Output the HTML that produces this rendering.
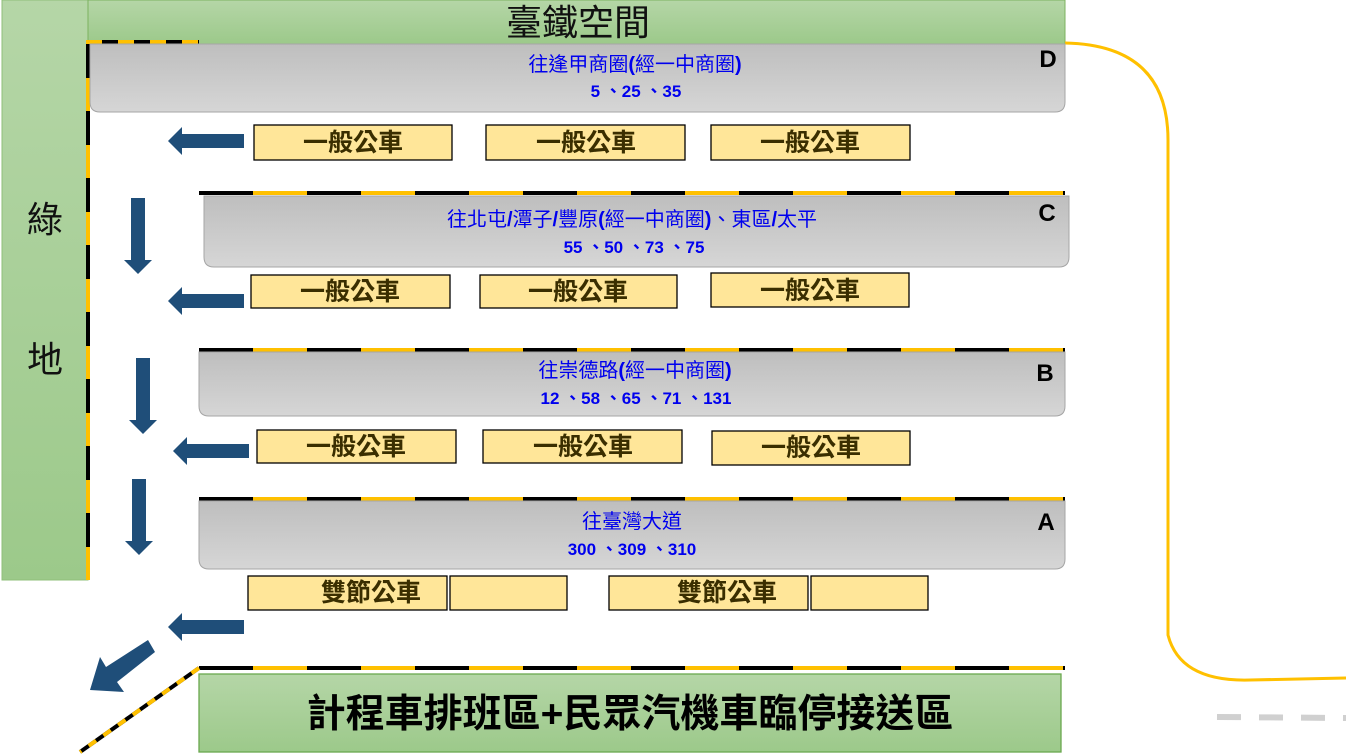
<!DOCTYPE html>
<html><head><meta charset="utf-8"><style>
html,body{margin:0;padding:0;background:#fff;}
svg{display:block;font-family:"Liberation Sans","Noto Sans CJK TC",sans-serif;}
</style></head><body>
<svg width="1346" height="756" viewBox="0 0 1346 756" xmlns="http://www.w3.org/2000/svg">
<defs>
<linearGradient id="g" x1="0" y1="0" x2="0" y2="1"><stop offset="0" stop-color="#b5d6a7"/><stop offset="1" stop-color="#9cc98a"/></linearGradient>
<linearGradient id="p" x1="0" y1="0" x2="0" y2="1"><stop offset="0" stop-color="#bebebe"/><stop offset="1" stop-color="#d6d6d6"/></linearGradient>
<g id="la"><polygon points="0,0 14,-14 14,-7 76,-7 76,7 14,7 14,14" fill="#1f4e79"/></g>
<g id="da"><polygon points="-7,0 7,0 7,62 14,62 0,76 -14,62 -7,62" fill="#1f4e79"/></g>
</defs>
<rect x="2" y="0" width="86" height="580" fill="url(#g)" stroke="#8fbf7a" stroke-width="1"/>
<text x="45" y="232" font-size="36" text-anchor="middle" fill="#111">綠</text>
<text x="45" y="372" font-size="36" text-anchor="middle" fill="#111">地</text>
<rect x="88" y="0" width="977" height="44" fill="url(#g)" stroke="#7cb25f" stroke-width="1"/>
<text x="578" y="35" font-size="36" text-anchor="middle" fill="#111">臺鐵空間</text>
<path d="M1065,43 Q1168,45 1168,140 L1168,635 Q1180,682 1250,680 L1346,678" fill="none" stroke="#ffc000" stroke-width="3"/>
<path d="M1217,717 L1346,718" stroke="#d0d0d0" stroke-width="6" stroke-dasharray="24,18"/>
<line x1="86" y1="42" x2="199" y2="42" stroke="#000" stroke-width="4"/>
<line x1="86" y1="42" x2="199" y2="42" stroke="#ffc000" stroke-width="4" stroke-dasharray="16,16"/>
<line x1="88" y1="44" x2="88" y2="580" stroke="#000" stroke-width="4"/>
<line x1="88" y1="44" x2="88" y2="580" stroke="#ffc000" stroke-width="4" stroke-dasharray="0,34,33,0"/>
<g stroke-width="4">
<line x1="199" y1="193" x2="1065" y2="193" stroke="#000"/>
<line x1="199" y1="193" x2="1065" y2="193" stroke="#ffc000" stroke-dasharray="0,54,54,0"/>
<line x1="199" y1="350" x2="1065" y2="350" stroke="#000"/>
<line x1="199" y1="350" x2="1065" y2="350" stroke="#ffc000" stroke-dasharray="0,54,54,0"/>
<line x1="199" y1="499" x2="1065" y2="499" stroke="#000"/>
<line x1="199" y1="499" x2="1065" y2="499" stroke="#ffc000" stroke-dasharray="0,54,54,0"/>
<line x1="199" y1="668" x2="1065" y2="668" stroke="#000"/>
<line x1="199" y1="668" x2="1065" y2="668" stroke="#ffc000" stroke-dasharray="0,54,54,0"/>
<line x1="199" y1="668" x2="80" y2="752" stroke="#000"/>
<line x1="199" y1="668" x2="80" y2="752" stroke="#ffc000" stroke-dasharray="9,9"/>
</g>
<g stroke="#a6a6a6" stroke-width="1" fill="url(#p)">
<path d="M90,44 H1065 V102 Q1065,112 1055,112 H100 Q90,112 90,102 Z"/>
<path d="M204,196 H1069 V257 Q1069,267 1059,267 H214 Q204,267 204,257 Z"/>
<path d="M199,352 H1065 V406 Q1065,416 1055,416 H209 Q199,416 199,406 Z"/>
<path d="M199,501 H1065 V559 Q1065,569 1055,569 H209 Q199,569 199,559 Z"/>
</g>
<g fill="#0000ee" text-anchor="middle">
<text x="635" y="71" font-size="20">往逢甲商圈<tspan font-weight="bold">(</tspan>經一中商圈<tspan font-weight="bold">)</tspan></text>
<text x="636" y="97" font-size="17" font-weight="bold">5 、25 、35</text>
<text x="632" y="226" font-size="20">往北屯<tspan font-weight="bold">/</tspan>潭子<tspan font-weight="bold">/</tspan>豐原<tspan font-weight="bold">(</tspan>經一中商圈<tspan font-weight="bold">)</tspan>、東區<tspan font-weight="bold">/</tspan>太平</text>
<text x="634" y="253" font-size="17" font-weight="bold">55 、50 、73 、75</text>
<text x="635" y="377" font-size="20">往崇德路<tspan font-weight="bold">(</tspan>經一中商圈<tspan font-weight="bold">)</tspan></text>
<text x="636" y="404" font-size="17" font-weight="bold">12 、58 、65 、71 、131</text>
<text x="632" y="528" font-size="20">往臺灣大道</text>
<text x="632" y="555" font-size="17" font-weight="bold">300 、309 、310</text>
</g>
<g font-size="24" font-weight="bold" fill="#000" text-anchor="middle">
<text x="1048" y="67">D</text><text x="1047" y="221">C</text><text x="1045" y="381">B</text><text x="1046" y="530">A</text>
</g>
<g fill="#ffe699" stroke="#000" stroke-width="1.3">
<rect x="254" y="125" width="198" height="35"/><rect x="486" y="125" width="199" height="35"/><rect x="711" y="125" width="199" height="35"/>
<rect x="251" y="275" width="199" height="33"/><rect x="480" y="275" width="197" height="33"/><rect x="711" y="273" width="198" height="34"/>
<rect x="257" y="430" width="199" height="33"/><rect x="483" y="430" width="199" height="33"/><rect x="712" y="431" width="198" height="34"/>
<rect x="248" y="576" width="199" height="34"/><rect x="450" y="576" width="117" height="34"/><rect x="609" y="576" width="199" height="34"/><rect x="811" y="576" width="117" height="34"/>
</g>
<g font-size="25" font-weight="bold" fill="#3a2e00" text-anchor="middle">
<text x="353" y="151">一般公車</text><text x="586" y="151">一般公車</text><text x="810" y="151">一般公車</text>
<text x="350" y="300">一般公車</text><text x="578" y="300">一般公車</text><text x="810" y="299">一般公車</text>
<text x="356" y="455">一般公車</text><text x="583" y="455">一般公車</text><text x="811" y="456">一般公車</text>
<text x="371" y="601">雙節公車</text><text x="727" y="601">雙節公車</text>
</g>
<use href="#la" x="168" y="141"/>
<use href="#la" x="168" y="301"/>
<use href="#la" x="173" y="451"/>
<use href="#la" x="168" y="627"/>
<use href="#da" x="138" y="198"/>
<use href="#da" x="143" y="358"/>
<use href="#da" x="139" y="479"/>
<polygon points="155,652 148,640 106,667 100,657 90,690 124,692 117,682" fill="#1f4e79"/>
<rect x="199" y="674" width="862" height="78" fill="url(#g)" stroke="#6aa84f" stroke-width="1.3"/>
<text x="630" y="727" font-size="39" font-weight="bold" text-anchor="middle" fill="#000">計程車排班區+民眾汽機車臨停接送區</text>
</svg>
</body></html>
